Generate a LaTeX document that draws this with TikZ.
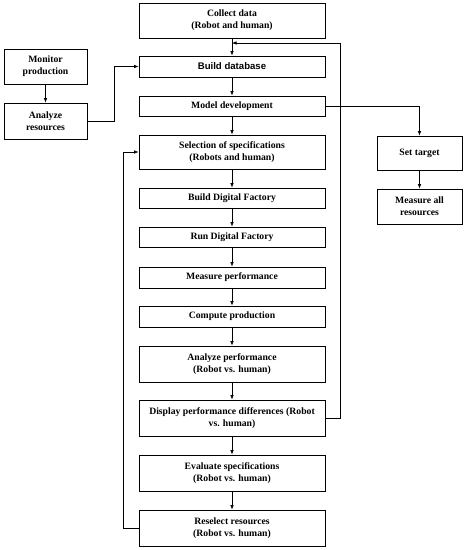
\documentclass[tikz,border=0pt]{standalone}
\usepackage{fontspec}
\setmainfont{Liberation Serif}
\newfontfamily\dbfont{Liberation Sans}
\usetikzlibrary{arrows.meta}

\begin{document}
\begin{tikzpicture}[x=1pt,y=-1pt,
  box/.style={draw, line width=0.7pt, rectangle, align=center, inner sep=0pt,
    font=\fontsize{9.7}{12}\selectfont\bfseries, minimum width=186pt},
  sidebox/.style={box, minimum width=84pt, minimum height=35pt},
  flow/.style={-{Latex[length=4.5pt,width=3.5pt]}, line width=0.6pt}]

\useasboundingbox (0,0) rectangle (464,550);

% main column
\def\colx{232}
\node[box, minimum height=35pt] (collect) at (\colx, 20.5) {Collect data\\(Robot and human)};
\node[box, minimum height=21pt, font=\dbfont\fontsize{9.6}{11}\selectfont\bfseries] (builddb) at (\colx, 66.5) {Build database};
\node[box, minimum height=20pt] (model) at (\colx, 106) {Model development};
\node[box, minimum height=34pt] (select) at (\colx, 152) {Selection of specifications\\(Robots and human)};
\node[box, minimum height=20pt] (builddf) at (\colx, 198) {Build Digital Factory};
\node[box, minimum height=20pt] (rundf) at (\colx, 237) {Run Digital Factory};
\node[box, minimum height=21pt] (measure) at (\colx, 277.5) {Measure performance};
\node[box, minimum height=21pt] (compute) at (\colx, 316.5) {Compute production};
\node[box, minimum height=36pt] (analyze) at (\colx, 364) {Analyze performance\\(Robot vs. human)};
\node[box, minimum height=36pt] (display) at (\colx, 418) {Display performance differences (Robot\\vs. human)};
\node[box, minimum height=36pt] (evaluate) at (\colx, 473) {Evaluate specifications\\(Robot vs. human)};
\node[box, minimum height=36pt] (reselect) at (\colx, 528) {Reselect resources\\(Robot vs. human)};

% left and right branches
\node[sidebox, minimum width=83pt] (monitor) at (45.5, 66.5) {Monitor\\production};
\node[sidebox, minimum width=83pt, minimum height=36pt] (analyzeres) at (45.5, 121) {Analyze\\resources};
\node[sidebox, minimum width=85pt, minimum height=34pt] (settarget) at (419.5, 153) {Set target};
\node[sidebox, minimum width=85pt] (measureall) at (419.5, 206.5) {Measure all\\resources};

% downward chain
\foreach \a/\b in {collect/builddb, builddb/model, model/select, select/builddf,
    builddf/rundf, rundf/measure, measure/compute, compute/analyze,
    analyze/display, display/evaluate, evaluate/reselect,
    monitor/analyzeres, settarget/measureall}
  \draw[flow] (\a) -- (\b);

\draw[flow] (analyzeres.east) -- ++(27,0) |- (builddb.west);
\draw[flow] (model.east) -| (settarget.north);

% feedback loops
\coordinate (backin) at (\colx, 43);
\draw[flow] (display.east) -- ++(15,0) |- (backin);
\draw[flow] (reselect.west) -- ++(-15,0) |- (select.west);

\end{tikzpicture}
\end{document}
